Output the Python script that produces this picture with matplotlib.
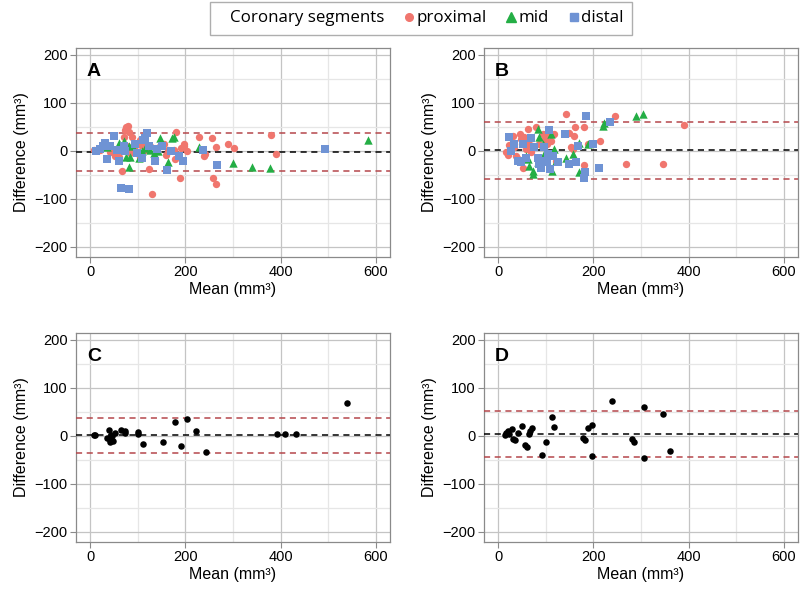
import matplotlib
matplotlib.use("Agg")
import matplotlib.pyplot as plt
from matplotlib.lines import Line2D
import numpy as np

plt.rcParams['font.family'] = ['Liberation Sans', 'DejaVu Sans']

# ---------------- Data ----------------
# Panel A
a_prox_x = [7, 21, 42, 53, 60, 67, 70, 74, 76, 79, 81, 77, 88, 91, 100, 104, 107, 111, 114, 118, 123, 126, 130, 135,
            147, 156, 160, 163, 175, 179, 180, 189, 191, 196, 198, 204, 228, 240, 242, 256, 257, 264, 265, 289, 302,
            379, 391, 105, 49, 63, 84]
a_prox_y = [2, 1, -3, -10, -13, -43, 29, 44, 49, 52, 40, 9, 28, 6, -5, -13, 13, 16, 2, 6, -38, 9, -89, -17,
            9, 15, -8, 2, 2, -17, 40, -57, 6, 9, 14, -1, 28, -10, -6, 27, -56, 8, -70, 14, 6,
            33, -6, 23, 2, 9, -5]
a_mid_x = [35, 60, 81, 83, 81, 88, 102, 109, 116, 126, 133, 142, 147, 172, 175, 163, 229, 300, 339, 377, 584, 70, 76]
a_mid_y = [7, 17, 9, -13, -33, 13, -15, -1, 6, 2, -5, -1, 26, 26, 29, -24, 7, -26, -34, -35, 23, 20, -12]
a_dist_x = [13, 21, 27, 30, 35, 42, 50, 56, 60, 65, 70, 74, 81, 95, 98, 108, 111, 114, 119, 123, 135, 140, 151,
            162, 169, 186, 194, 237, 267, 493]
a_dist_y = [-1, 3, 9, 17, -17, 9, 31, 2, -21, -77, 9, -1, -80, 14, -5, -15, 23, 26, 38, 9, -22, 3, 9,
            -40, -1, -10, -22, 2, -29, 4]

# Panel B
b_prox_x = [16, 20, 23, 27, 32, 34, 37, 41, 46, 48, 50, 51, 55, 58, 62, 65, 69, 72, 79, 86, 93, 99, 102, 104,
            111, 118, 122, 143, 148, 153, 160, 162, 157, 181, 181, 188, 213, 245, 269, 347, 390]
b_prox_y = [-3, -8, 12, 10, 31, 8, -10, -17, 36, 24, 14, -36, 28, 3, 45, 14, -3, 10, 50, 14, 34, 24, 14, 38,
            20, 34, -21, 77, 38, 8, 31, 49, 3, 49, -29, 14, 21, 73, -27, -27, 53]
b_mid_x = [58, 62, 65, 72, 74, 83, 86, 83, 93, 97, 111, 113, 118, 122, 143, 157, 160, 169, 170, 188, 220, 223, 290, 304]
b_mid_y = [-10, -17, -31, -42, -48, 45, 28, -24, 14, -7, 34, -42, 3, -21, -14, -7, -17, 17, -45, 14, 52, 57, 72, 76]
b_dist_x = [23, 27, 34, 41, 48, 51, 58, 69, 76, 83, 86, 90, 93, 97, 102, 107, 104, 109, 114, 125, 141, 149, 164,
            167, 183, 181, 185, 199, 211, 235]
b_dist_y = [28, -1, 14, -21, -24, 14, -14, 27, 7, -14, -28, -35, -21, 7, -24, 44, -7, -38, -10, -24, 35, -28, -24,
            10, -45, -56, 72, 14, -36, 59]

# Panel C
c_x = [7, 9, 39, 35, 41, 42, 46, 48, 51, 65, 74, 74, 100, 100, 110, 153, 178, 191, 204, 222, 244, 392, 409, 433, 539, 43]
c_y = [2, 1, 13, -5, -8, -12, -1, -10, 6, 13, 9, 5, 8, 3, -17, -13, 29, -22, 35, 9, -34, 4, 3, 4, 68, 1]

# Panel D
d_x = [14, 16, 20, 23, 29, 32, 35, 42, 49, 57, 60, 64, 67, 71, 91, 100, 112, 117, 179, 183, 188, 196, 196,
       239, 281, 286, 306, 306, 347, 361]
d_y = [1, 6, 10, 4, 14, -6, -8, 6, 20, -20, -24, 4, 10, 17, -40, -12, 40, 19, -5, -9, 17, 23, -43,
       73, -6, -13, 61, -47, 45, -31]

# Bias and limits of agreement: (lower, mean, upper)
loa_a = (-42, -2, 38)
loa_b = (-58, 2, 61)
loa_c = (-36, 1, 38)
loa_d = (-45, 3, 52)

x_ticks = [0, 200, 400, 600]
y_ticks = [-200, -100, 0, 100, 200]

col_prox = '#F0766E'
col_mid = '#24AE45'
col_dist = '#6F93D4'
col_loa = '#B5474B'

fig = plt.figure(figsize=(8, 5.91), dpi=100)

W, H = 800, 591
def axes_px(left, top, right, bottom):
    return fig.add_axes([left / W, 1 - bottom / H, (right - left) / W, (bottom - top) / H])

axA = axes_px(76, 48, 390, 257)
axB = axes_px(484, 48, 798, 257)
axC = axes_px(76, 333, 390, 542)
axD = axes_px(484, 333, 798, 542)

def style(ax, letter, loa):
    ax.set_xlim(-30, 630)
    ax.set_ylim(-221, 214)
    ax.set_xticks(x_ticks)
    ax.set_yticks(y_ticks)
    ax.set_xticks([100, 300, 500], minor=True)
    ax.set_yticks([-150, -50, 50, 150], minor=True)
    ax.grid(which='major', color='#C4C4C4', linewidth=0.9)
    ax.grid(which='minor', color='#E6E6E6', linewidth=0.9)
    ax.set_axisbelow(True)
    for s in ax.spines.values():
        s.set_color('#8A8A8A')
        s.set_linewidth(0.9)
    ax.tick_params(which='major', length=4, color='#8A8A8A', labelsize=10.5, labelcolor='black', pad=2)
    ax.tick_params(which='minor', length=0)
    ax.set_xlabel('Mean (mm³)', fontsize=11.5, labelpad=2)
    ax.set_ylabel('Difference (mm³)', fontsize=11.5, labelpad=4)
    ax.text(0.035, 0.93, letter, transform=ax.transAxes, fontsize=14, fontweight='bold', va='top', ha='left')
    lo, mu, hi = loa
    ax.axhline(hi, color=col_loa, linestyle=(0, (4, 3)), linewidth=1.1, zorder=3)
    ax.axhline(lo, color=col_loa, linestyle=(0, (4, 3)), linewidth=1.1, zorder=3)
    ax.axhline(mu, color='black', linestyle=(0, (4, 3)), linewidth=1.1, zorder=3)

ms = 28
for ax, px, py, mx, my, dx, dy in [
    (axA, a_prox_x, a_prox_y, a_mid_x, a_mid_y, a_dist_x, a_dist_y),
    (axB, b_prox_x, b_prox_y, b_mid_x, b_mid_y, b_dist_x, b_dist_y),
]:
    ax.scatter(px, py, s=ms, marker='o', color=col_prox, linewidths=0, zorder=4)
    ax.scatter(mx, my, s=ms * 1.3, marker='^', color=col_mid, linewidths=0, zorder=4)
    ax.scatter(dx, dy, s=ms, marker='s', color=col_dist, linewidths=0, zorder=4)

axC.scatter(c_x, c_y, s=22, color='black', linewidths=0, zorder=4)
axD.scatter(d_x, d_y, s=22, color='black', linewidths=0, zorder=4)

style(axA, 'A', loa_a)
style(axB, 'B', loa_b)
style(axC, 'C', loa_c)
style(axD, 'D', loa_d)

handles = [
    Line2D([], [], linestyle='none', marker=None),
    Line2D([], [], linestyle='none', marker='o', color=col_prox, markersize=5.5),
    Line2D([], [], linestyle='none', marker='^', color=col_mid, markersize=6.5),
    Line2D([], [], linestyle='none', marker='s', color=col_dist, markersize=5.5),
]
labels = ['Coronary segments', 'proximal', 'mid', 'distal']
leg = fig.legend(handles, labels, loc='center', bbox_to_anchor=(421 / W, 1 - 18.5 / H), ncol=4,
                 frameon=True, fancybox=False, edgecolor='#9A9A9A',
                 handlelength=0.5, handletextpad=0.2, columnspacing=1.2, borderpad=0.5,
                 prop={'family': ['Open Sans', 'DejaVu Sans'], 'size': 12.2})
leg.get_frame().set_linewidth(1.0)

fig.savefig('out.png', dpi=100)
